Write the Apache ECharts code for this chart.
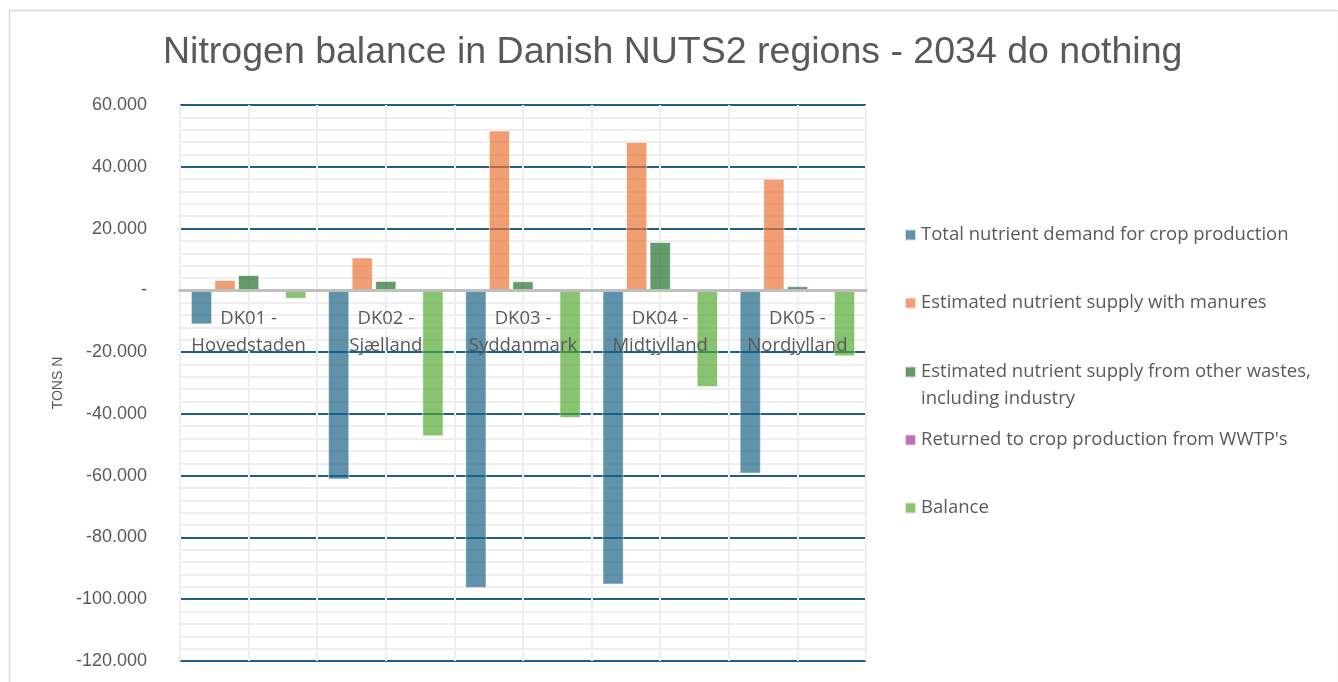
<!DOCTYPE html>
<html>
<head>
<meta charset="utf-8">
<script src="https://cdn.jsdelivr.net/npm/echarts@6/dist/echarts.min.js"></script>
<style>
html,body{margin:0;padding:0;background:#fff;}
#chart{width:1338px;height:682px;}
</style>
</head>
<body>
<div id="chart"></div>
<script>
const titleText = 'Nitrogen balance in Danish NUTS2 regions - 2034 do nothing';
const categories = ['DK01 -\nHovedstaden', 'DK02 -\nSjælland', 'DK03 -\nSyddanmark', 'DK04 -\nMidtjylland', 'DK05 -\nNordjylland'];
const seriesNames = [
  'Total nutrient demand for crop production',
  'Estimated nutrient supply with manures',
  'Estimated nutrient supply from other wastes,\nincluding industry',
  "Returned to crop production from WWTP's",
  'Balance'
];
const demand = [-11000, -61200, -96300, -95200, -59300];
const manures = [3300, 10600, 51700, 48000, 36100];
const otherWastes = [4900, 3000, 2900, 15600, 1300];
const wwtp = [0, 0, 0, 0, 0];
const balance = [-2700, -47200, -41300, -31300, -21300];
const yTicks = [-120000, -100000, -80000, -60000, -40000, -20000, 0, 20000, 40000, 60000];
const yAxisName = 'TONS N';

const colors = ['#156082', '#E97132', '#196B24', '#A02B93', '#4EA72E'];
const seriesData = [demand, manures, otherWastes, wwtp, balance];

function fmt(v) {
  if (v === 0) return '-';
  const s = Math.abs(v).toString().replace(/\B(?=(\d{3})+(?!\d))/g, '.');
  return (v < 0 ? '-' : '') + s;
}

const chart = echarts.init(document.getElementById('chart'));
const textColor = '#595959';
const legendTops = [225, 293, 331.5, 430, 498];
const uiFont = 'Open Sans';

const option = {
  animation: false,
  backgroundColor: '#ffffff',
  title: {
    text: titleText,
    left: 158,
    top: 29,
    textStyle: { fontFamily: 'Liberation Sans', fontSize: 37.5, fontWeight: 'normal', color: textColor }
  },
  graphic: [{
    type: 'rect', left: 7, top: 8, shape: { width: 1329, height: 690 },
    style: { fill: 'none', stroke: '#d9d9d9', lineWidth: 1.5 }, silent: true, z: -10
  }],
  legend: seriesNames.map((n, i) => ({
    data: [n],
    orient: 'vertical',
    left: 904,
    top: legendTops[i],
    padding: 0,
    itemWidth: 11,
    itemHeight: 11,
    icon: 'rect',
    selectedMode: false,
    formatter: i === 2 ? (name => '\n' + name) : undefined,
    textStyle: { fontFamily: uiFont, fontSize: 18.5, color: textColor, lineHeight: i === 2 ? 27 : 20 }
  })),
  grid: { left: 180, right: 472, top: 105, bottom: 21, containLabel: false, outerBoundsMode: 'none' },
  xAxis: [{
    type: 'category',
    data: categories,
    position: 'bottom',
    offset: -371,
    axisLine: { onZero: false, lineStyle: { color: '#bfbfbf', width: 3 } },
    axisTick: { show: false },
    splitLine: { show: false },
    axisLabel: { color: textColor, fontFamily: uiFont, fontSize: 18.5, lineHeight: 27, margin: 15, interval: 0 },
    z: 5
  }, {
    type: 'value',
    min: 0, max: 10, interval: 1,
    position: 'top',
    axisLine: { show: false, onZero: false }, axisTick: { show: false }, axisLabel: { show: false },
    splitLine: { show: true, lineStyle: { color: '#eeeeee', width: 2 } }
  }],
  yAxis: {
    type: 'value',
    min: yTicks[0], max: yTicks[yTicks.length - 1], interval: 20000,
    name: yAxisName,
    nameLocation: 'middle',
    nameGap: 115,
    nameRotate: 90,
    nameTextStyle: { color: textColor, fontFamily: 'Liberation Sans', fontSize: 14 },
    axisLine: { show: false, onZero: false },
    axisTick: { show: false },
    axisLabel: { color: textColor, fontFamily: 'Liberation Sans', fontSize: 18, margin: 33, formatter: fmt },
    splitLine: { lineStyle: { color: '#1f6089', width: 2 } },
    minorTick: { show: false, splitNumber: 5 },
    minorSplitLine: { show: true, lineStyle: { color: '#eeeeee', width: 2 } }
  },
  series: seriesNames.map((n, i) => ({
    name: n,
    type: 'bar',
    xAxisIndex: 0,
    data: seriesData[i],
    barCategoryGap: '16%',
    barGap: '12%',
    itemStyle: { color: colors[i], opacity: 0.68, borderColor: '#ffffff', borderWidth: 0.8 },
    z: 3
  }))
};
chart.setOption(option);
</script>
</body>
</html>
